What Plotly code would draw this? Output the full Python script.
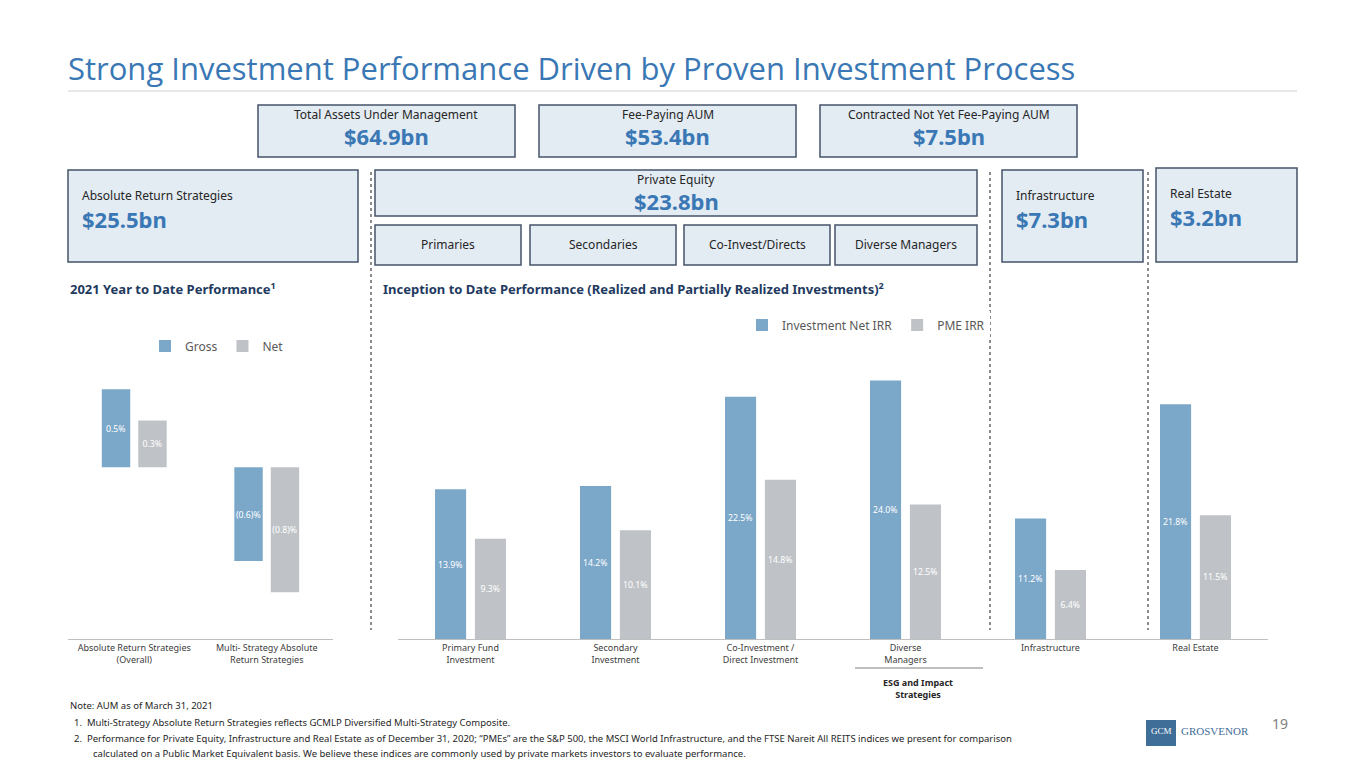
import plotly.graph_objects as go

W, H = 1349, 752  # page body has an 8px margin inside the 1365x768 window
OFF = 8

# data
ytd_cats = ['Absolute Return Strategies<br>(Overall)', 'Multi- Strategy Absolute<br>Return Strategies']
ytd_gross = [0.5, -0.6]
ytd_net = [0.3, -0.8]
ytd_gross_lbl = ['0.5%', '(0.6)%']
ytd_net_lbl = ['0.3%', '(0.8)%']

itd_cats = ['Primary Fund<br>Investment', 'Secondary<br>Investment', 'Co-Investment /<br>Direct Investment',
            'Diverse<br>Managers', 'Infrastructure', 'Real Estate']
itd_irr = [13.9, 14.2, 22.5, 24.0, 11.2, 21.8]
itd_pme = [9.3, 10.1, 14.8, 12.5, 6.4, 11.5]

BLUE = '#7BA7C9'
GREY = '#BFC3C7'
TITLE = '#3A78B5'
NAVY = '#1F3A5F'
FONT = 'Noto Sans'


def px(x):
    return (x - OFF) / W


def py(y):
    return 1 - (y - OFF) / H


fig = go.Figure()

# YTD chart
fig.add_trace(go.Bar(x=ytd_cats, y=ytd_gross, name='Gross', marker_color=BLUE, text=ytd_gross_lbl,
                     textposition='inside', insidetextanchor='middle', xaxis='x', yaxis='y', legend='legend'))
fig.add_trace(go.Bar(x=ytd_cats, y=ytd_net, name='Net', marker_color=GREY, text=ytd_net_lbl,
                     textposition='inside', insidetextanchor='middle', xaxis='x', yaxis='y', legend='legend'))

# ITD chart
fig.add_trace(go.Bar(x=itd_cats, y=itd_irr, name='Investment Net IRR', marker_color=BLUE,
                     text=[f'{v:.1f}%' for v in itd_irr], textposition='inside', insidetextanchor='middle',
                     xaxis='x2', yaxis='y2', legend='legend2'))
fig.add_trace(go.Bar(x=itd_cats, y=itd_pme, name='PME IRR', marker_color=GREY,
                     text=[f'{v:.1f}%' for v in itd_pme], textposition='inside', insidetextanchor='middle',
                     xaxis='x2', yaxis='y2', legend='legend2'))

fig.update_traces(textfont=dict(color='white', size=9), marker_line_width=0, textangle=0)

ax = dict(showgrid=False, showline=True, linecolor='#bfbfbf', ticks='', tickfont=dict(size=9, color='#404040'),
          fixedrange=True)
ay = dict(visible=False, showgrid=False, zeroline=False, fixedrange=True)

fig.update_layout(
    width=W, height=H, margin=dict(l=0, r=0, t=0, b=0),
    plot_bgcolor='white', paper_bgcolor='white',
    font=dict(family=FONT, color='#404040'),
    barmode='group', bargap=0.45, bargroupgap=0.22,
    uniformtext=dict(minsize=8, mode='show'),
    xaxis=dict(ax, domain=[px(68), px(333)]),
    yaxis=dict(ay, domain=[py(639), py(330)], range=[-1.10, 0.88]),
    xaxis2=dict(ax, domain=[px(398), px(1268)], anchor='y2'),
    yaxis2=dict(ay, domain=[py(639), py(330)], range=[0, 28.7], anchor='x2'),
    legend=dict(orientation='h', x=px(145), y=py(346), xanchor='left', yanchor='middle',
                font=dict(size=12, color='#595959'), itemwidth=30),
    legend2=dict(orientation='h', x=px(742), y=py(325), xanchor='left', yanchor='middle',
                 font=dict(size=12, color='#595959'), itemwidth=30),
)

shapes = []
annotations = []

# title
annotations.append(dict(x=px(66), y=py(68), xref='paper', yref='paper', xanchor='left', yanchor='middle',
                        text='Strong Investment Performance Driven by Proven Investment Process',
                        showarrow=False, font=dict(family='Open Sans', size=31, color=TITLE)))
shapes.append(dict(type='line', xref='paper', yref='paper', x0=px(68), x1=px(1297), y0=py(91), y1=py(91),
                   line=dict(color='#d0d0d0', width=1)))


def box(x0, y0, x1, y1, small, big, align='center'):
    shapes.append(dict(type='rect', xref='paper', yref='paper', x0=px(x0), x1=px(x1), y0=py(y0), y1=py(y1),
                       line=dict(color='#44546A', width=1.5), fillcolor='#E3EBF3', layer='below'))
    if align == 'center':
        xa, anc = (x0 + x1) / 2, 'center'
    else:
        xa, anc = x0 + 12, 'left'
    if big:
        tall = (y1 - y0) > 60
        annotations.append(dict(x=px(xa), y=py(y0 + 25 if tall else y0 + 10), xref='paper', yref='paper',
                                xanchor=anc, yanchor='middle', text=small, showarrow=False,
                                font=dict(size=12, color='#262626')))
        annotations.append(dict(x=px(xa), y=py(y0 + 49 if tall else y0 + 31), xref='paper', yref='paper',
                                xanchor=anc, yanchor='middle', text='<b>%s</b>' % big, showarrow=False,
                                font=dict(size=22, color=TITLE)))
    else:
        annotations.append(dict(x=px(xa), y=py((y0 + y1) / 2), xref='paper', yref='paper', xanchor=anc,
                                yanchor='middle', text=small, showarrow=False, font=dict(size=12, color='#262626')))


box(258, 105, 515, 157, 'Total Assets Under Management', '$64.9bn')
box(539, 105, 796, 157, 'Fee-Paying AUM', '$53.4bn')
box(820, 105, 1077, 157, 'Contracted Not Yet Fee-Paying AUM', '$7.5bn')
box(68, 170, 358, 262, 'Absolute Return Strategies', '$25.5bn', 'left')
box(375, 170, 977, 216, 'Private Equity', '$23.8bn')
box(375, 225, 521, 265, 'Primaries', None)
box(530, 225, 676, 265, 'Secondaries', None)
box(684, 225, 830, 265, 'Co-Invest/Directs', None)
box(835, 225, 977, 265, 'Diverse Managers', None)
box(1002, 170, 1143, 262, 'Infrastructure', '$7.3bn', 'left')
box(1156, 168, 1297, 262, 'Real Estate', '$3.2bn', 'left')

# dotted separators
for xv in [371, 990, 1148]:
    shapes.append(dict(type='line', xref='paper', yref='paper', x0=px(xv), x1=px(xv), y0=py(172), y1=py(630),
                       line=dict(color='#8c8c8c', width=2, dash='dot')))

# section headings
annotations.append(dict(x=px(68), y=py(288), xref='paper', yref='paper', xanchor='left', yanchor='middle',
                        text='<b>2021 Year to Date Performance<sup>1</sup></b>', showarrow=False,
                        font=dict(size=13, color=NAVY)))
annotations.append(dict(x=px(381), y=py(288), xref='paper', yref='paper', xanchor='left', yanchor='middle',
                        text='<b>Inception to Date Performance (Realized and Partially Realized Investments)<sup>2</sup></b>',
                        showarrow=False, font=dict(size=13, color=NAVY)))

# ESG bracket
shapes.append(dict(type='line', xref='paper', yref='paper', x0=px(855), x1=px(983), y0=py(668), y1=py(668),
                   line=dict(color='#7f7f7f', width=1)))
annotations.append(dict(x=px(918), y=py(688), xref='paper', yref='paper', xanchor='center', yanchor='middle',
                        text='<b>ESG and Impact<br>Strategies</b>', showarrow=False,
                        font=dict(size=9, color='#262626')))

# footnotes
notes = [
    (68, 705, 'Note: AUM as of March 31, 2021'),
    (72, 722, '1.  Multi-Strategy Absolute Return Strategies reflects GCMLP Diversified Multi-Strategy Composite.'),
    (72, 738, '2.  Performance for Private Equity, Infrastructure and Real Estate as of December 31, 2020; \u201cPMEs\u201d '
              'are the S&P 500, the MSCI World Infrastructure, and the FTSE Nareit All REITS indices we present for comparison'),
    (91, 753, 'calculated on a Public Market Equivalent basis. We believe these indices are commonly used by private '
              'markets investors to evaluate performance.'),
]
for xv, yv, t in notes:
    annotations.append(dict(x=px(xv), y=py(yv), xref='paper', yref='paper', xanchor='left', yanchor='middle',
                            text=t, showarrow=False, font=dict(family='Noto Sans', size=9.5, color='#262626')))

# logo + page number
shapes.append(dict(type='rect', xref='paper', yref='paper', x0=px(1146), x1=px(1176), y0=py(720), y1=py(746),
                   fillcolor='#3F6E98', line=dict(width=0), layer='below'))
annotations.append(dict(x=px(1161), y=py(731), xref='paper', yref='paper', xanchor='center', yanchor='middle',
                        text='GCM', showarrow=False,
                        font=dict(family='Liberation Serif', size=9, color='white')))
annotations.append(dict(x=px(1179), y=py(731), xref='paper', yref='paper', xanchor='left', yanchor='middle',
                        text='GROSVENOR', showarrow=False,
                        font=dict(family='Liberation Serif', size=11, color='#3F6E98')))
annotations.append(dict(x=px(1290), y=py(735), xref='paper', yref='paper', text='19', showarrow=False,
                        font=dict(size=14, color='#808080')))

fig.update_layout(shapes=shapes, annotations=annotations)
fig.write_html('out.html')
